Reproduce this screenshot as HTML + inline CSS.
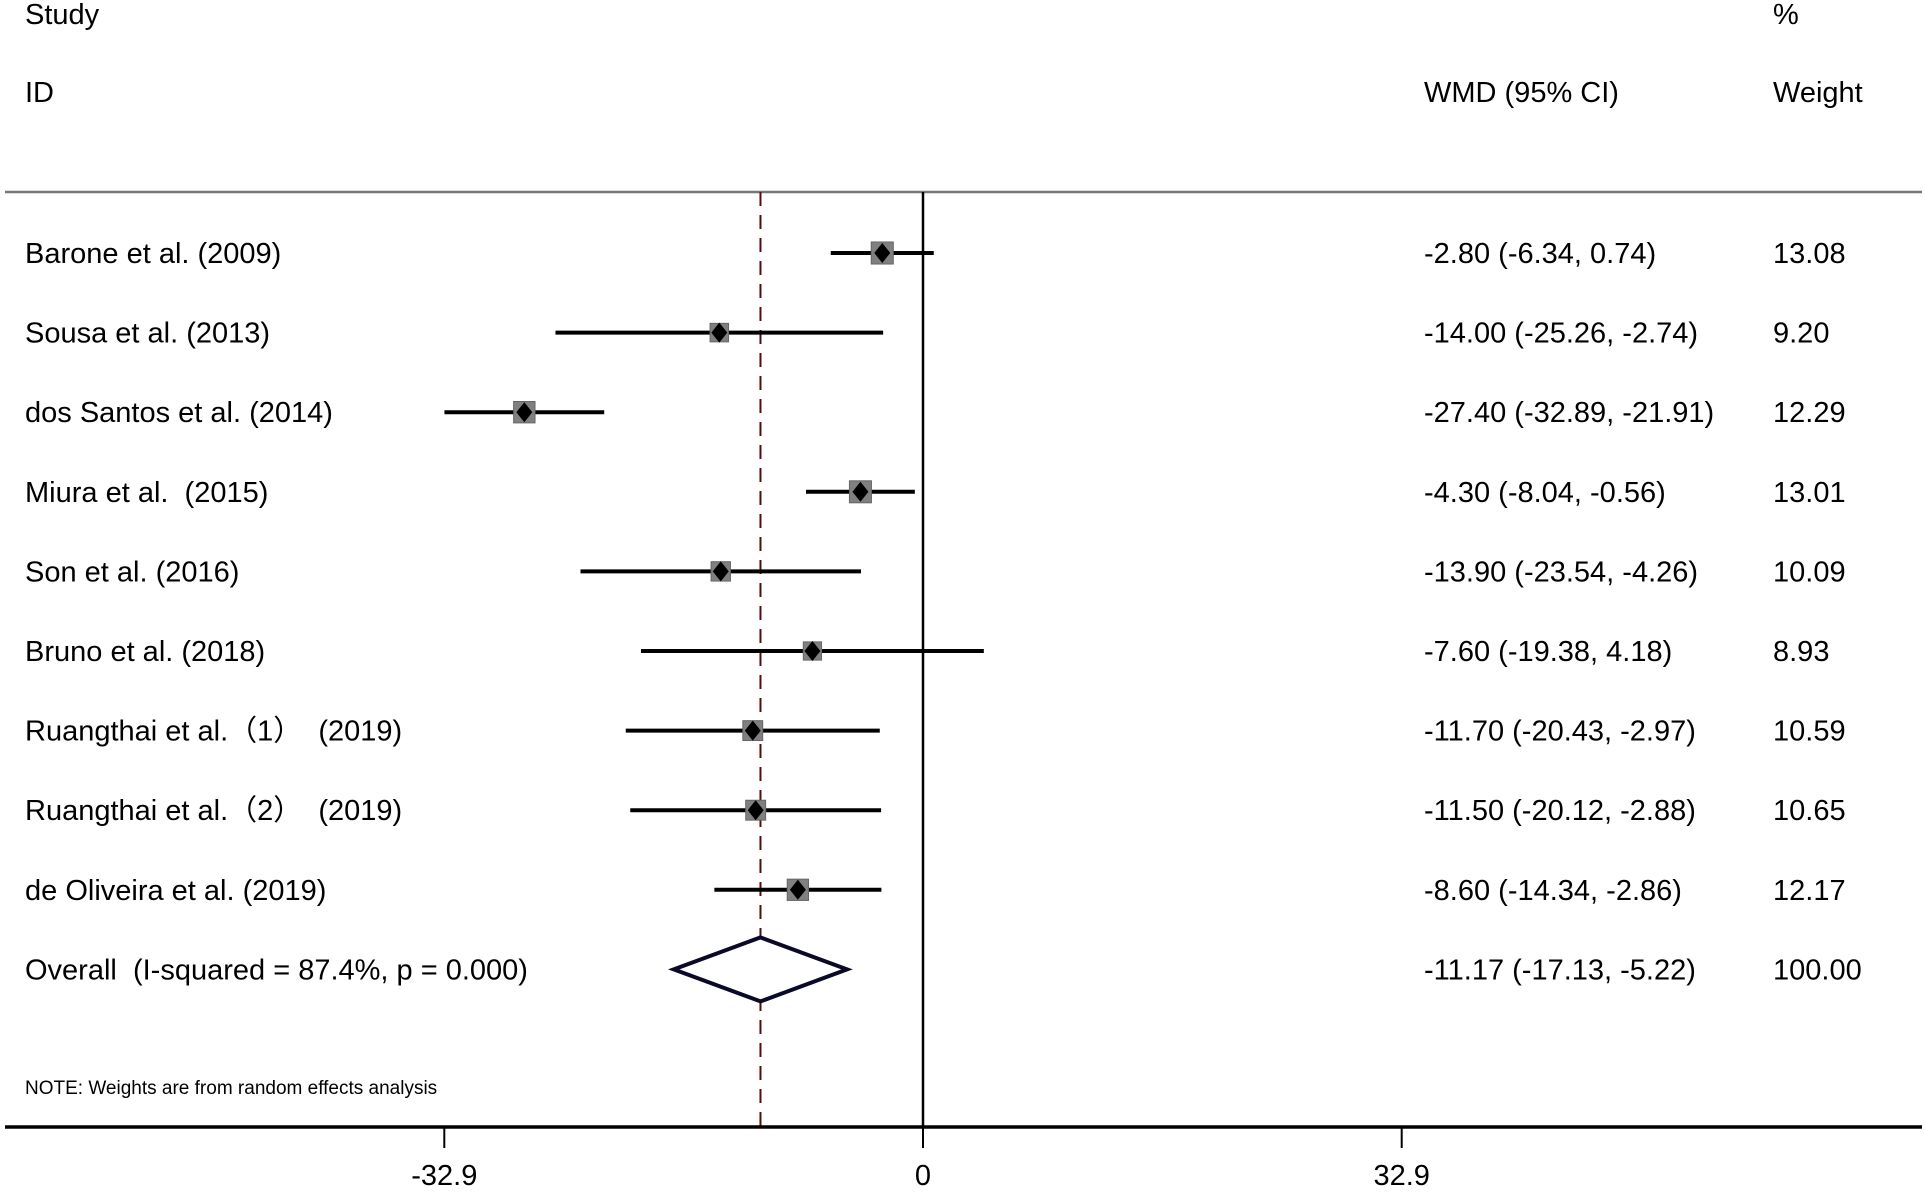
<!DOCTYPE html>
<html><head><meta charset="utf-8"><style>
body{margin:0;background:#fff;}
svg text{font-family:"Liberation Sans","Noto Sans CJK SC",sans-serif;fill:#000;white-space:pre;}
</style></head><body>
<svg width="1925" height="1189" viewBox="0 0 1925 1189">
<text x="25" y="24" font-size="29">Study</text>
<text x="25" y="102" font-size="29">ID</text>
<text x="1424" y="102" font-size="29">WMD (95% CI)</text>
<text x="1773" y="24" font-size="29">%</text>
<text x="1773" y="102" font-size="29">Weight</text>
<line x1="5" y1="192" x2="1922" y2="192" stroke="#777" stroke-width="2.5"/>
<g id="plot"></g>
<text x="25" y="1094" font-size="19">NOTE: Weights are from random effects analysis</text>
</svg>
<script>
const studies=["Barone et al. (2009)","Sousa et al. (2013)","dos Santos et al. (2014)","Miura et al.  (2015)","Son et al. (2016)","Bruno et al. (2018)","Ruangthai et al.（1）  (2019)","Ruangthai et al.（2）  (2019)","de Oliveira et al. (2019)"];
const est=[-2.80,-14.00,-27.40,-4.30,-13.90,-7.60,-11.70,-11.50,-8.60];
const lo=[-6.34,-25.26,-32.89,-8.04,-23.54,-19.38,-20.43,-20.12,-14.34];
const hi=[0.74,-2.74,-21.91,-0.56,-4.26,4.18,-2.97,-2.88,-2.86];
const weights=[13.08,9.20,12.29,13.01,10.09,8.93,10.59,10.65,12.17];
const overall=[-11.17,-17.13,-5.22];
const ticks=[-32.9,0,32.9];
const NS="http://www.w3.org/2000/svg";
const g=document.getElementById('plot');
const X=v=>923+v*14.55;
const rowY=i=>253+i*79.6;
const fmt=v=>v.toFixed(2);
function mk(t,a){const e=document.createElementNS(NS,t);for(const k in a)e.setAttribute(k,a[k]);g.appendChild(e);return e;}
let e;
e=mk('line',{x1:X(0),y1:192,x2:X(0),y2:1127,stroke:'#000','stroke-width':2.5});


e=mk('line',{x1:X(overall[0]),y1:192,x2:X(overall[0]),y2:1127,stroke:'#5a0a0a','stroke-width':2,'stroke-dasharray':'14,9'});


studies.forEach((s,i)=>{
 const y=rowY(i);
 let t=mk('text',{x:25,y:y+10,'font-size':29});t.textContent=s;
 
 
 t=mk('text',{x:1424,y:y+10,'font-size':29});t.textContent=fmt(est[i])+' ('+fmt(lo[i])+', '+fmt(hi[i])+')';
 
 
 t=mk('text',{x:1773,y:y+10,'font-size':29});t.textContent=fmt(weights[i]);
 
 
 const l=mk('line',{x1:X(lo[i]),y1:y,x2:X(hi[i]),y2:y,stroke:'#000','stroke-width':4});
 
 
 const sz=6.1*Math.sqrt(weights[i]);
 const b=mk('rect',{x:X(est[i])-sz/2,y:y-sz/2,width:sz,height:sz,fill:'#808080',stroke:'#666','stroke-width':1});
 
 
 const c=X(est[i]);
 const d=mk('polygon',{points:`${c-8},${y} ${c},${y-10} ${c+8},${y} ${c},${y+10}`,fill:'#000'});
 
 
});
const oy=rowY(9);
let t=mk('text',{x:25,y:oy+10,'font-size':29});t.textContent='Overall  (I-squared = 87.4%, p = 0.000)';


t=mk('text',{x:1424,y:oy+10,'font-size':29});t.textContent=fmt(overall[0])+' ('+fmt(overall[1])+', '+fmt(overall[2])+')';


t=mk('text',{x:1773,y:oy+10,'font-size':29});t.textContent='100.00';


e=mk('polygon',{points:`${X(overall[1])},${oy} ${X(overall[0])},${oy-32} ${X(overall[2])},${oy} ${X(overall[0])},${oy+32}`,fill:'#fff',stroke:'#0a0a28','stroke-width':4});


e=mk('line',{x1:5,y1:1127,x2:1922,y2:1127,stroke:'#000','stroke-width':3.5});


ticks.forEach(v=>{
 const l=mk('line',{x1:X(v),y1:1127,x2:X(v),y2:1148,stroke:'#000','stroke-width':2});
 
 
 const tx=mk('text',{x:X(v),y:1185,'font-size':29,'text-anchor':'middle'});tx.textContent=String(v);
 
 
});
</script>
</body></html>
